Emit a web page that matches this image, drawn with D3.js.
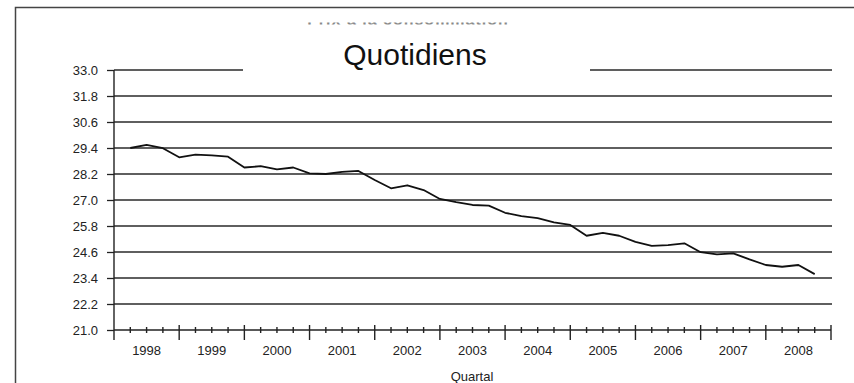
<!DOCTYPE html>
<html>
<head>
<meta charset="utf-8">
<script src="https://cdn.jsdelivr.net/npm/d3@7"></script>
<style>
  body { margin: 0; background: #fff; }
  svg { display: block; font-family: "Liberation Sans", Arial, sans-serif; }
</style>
</head>
<body>
<svg id="chart" width="854" height="383"></svg>
<script>
// years on the x axis, one label per year (4 quarters)
const years = ["1998", "1999", "2000", "2001", "2002", "2003", "2004", "2005", "2006", "2007", "2008"]
// y tick labels
const yTicks = [21.0, 22.2, 23.4, 24.6, 25.8, 27.0, 28.2, 29.4, 30.6, 31.8, 33.0]
// quarterly index values
const values = [
    29.40, 29.54, 29.39, 28.97, 29.09, 29.06, 29.00, 28.50, 28.56, 28.41,
    28.50, 28.23, 28.20, 28.30, 28.34, 27.92, 27.54, 27.68, 27.46, 27.05,
    26.90, 26.77, 26.74, 26.41, 26.26, 26.16, 25.97, 25.85, 25.35, 25.48,
    25.35, 25.07, 24.88, 24.92, 25.00, 24.59, 24.49, 24.54, 24.26, 24.00,
    23.92, 24.00, 23.58
]

const svg = d3.select("#chart")
const nQuarters = years.length * 4

let xScale = d3.scaleLinear().domain([0, nQuarters]).range([114, 831])
let yScale = d3.scaleLinear().domain([21, 33]).range([330, 70])

// frame (left and top only)
svg.append("path")
    .attr("d", "M15.5,383 V7.5 H854")
    .attr("fill", "none")
    .attr("stroke", "#444")
    .attr("stroke-width", 1.5)

// gridlines
svg.selectAll(".grid")
    .data(yTicks.slice(1))
    .enter()
    .append("line")
    .attr("class", "grid")
    .attr("x1", xScale(0))
    .attr("x2", 832)
    .attr("y1", d => yScale(d))
    .attr("y2", d => yScale(d))
    .attr("stroke", "#2a2a2a")
    .attr("stroke-width", 1.6)

// y axis
let yAxis = svg.append("g")
    .attr("transform", "translate(" + xScale(0) + ",0)")
    .call(d3.axisLeft(yScale).tickValues(yTicks).tickSize(7).tickPadding(9).tickFormat(d3.format(".1f")))
yAxis.select(".domain").remove()
yAxis.selectAll("line").attr("stroke", "#222").attr("stroke-width", 1.3)
yAxis.selectAll("text").attr("font-size", "13px").attr("fill", "#222")
    .attr("font-family", "'Liberation Sans', Arial, sans-serif")
svg.append("line")
    .attr("x1", xScale(0)).attr("x2", xScale(0))
    .attr("y1", yScale(33)).attr("y2", 340)
    .attr("stroke", "#222").attr("stroke-width", 1.4)

// x axis
svg.append("line")
    .attr("x1", xScale(0)).attr("x2", xScale(nQuarters))
    .attr("y1", yScale(21)).attr("y2", yScale(21))
    .attr("stroke", "#222").attr("stroke-width", 1.6)

let quarters = d3.range(1, nQuarters + 1)
svg.selectAll(".qtick")
    .data(quarters)
    .enter()
    .append("line")
    .attr("class", "qtick")
    .attr("x1", d => xScale(d)).attr("x2", d => xScale(d))
    .attr("y1", d => d % 4 == 0 ? yScale(21) - 5 : yScale(21) - 3)
    .attr("y2", d => d % 4 == 0 ? yScale(21) + 10 : yScale(21) + 3)
    .attr("stroke", "#222")
    .attr("stroke-width", 1.4)

svg.selectAll(".year")
    .data(years)
    .enter()
    .append("text")
    .attr("class", "year")
    .attr("x", (d, i) => xScale(i * 4 + 2))
    .attr("y", 355)
    .attr("text-anchor", "middle")
    .attr("font-size", "13px")
    .attr("fill", "#222")
    .text(d => d)

svg.append("text")
    .attr("x", 472)
    .attr("y", 381)
    .attr("text-anchor", "middle")
    .attr("font-size", "13px")
    .attr("fill", "#222")
    .text("Quartal")

// data line
let line = d3.line()
    .x((d, i) => xScale(i + 1))
    .y(d => yScale(d))
svg.append("path")
    .datum(values)
    .attr("d", line)
    .attr("fill", "none")
    .attr("stroke", "#111")
    .attr("stroke-width", 1.8)
    .attr("stroke-linejoin", "round")

// remnant of the original title, only its bottom edge shows
svg.append("clipPath").attr("id", "oldTitle")
    .append("rect").attr("x", 0).attr("y", 22.5).attr("width", 854).attr("height", 2)
svg.append("text")
    .attr("clip-path", "url(#oldTitle)")
    .attr("x", 408)
    .attr("y", 24.5)
    .attr("text-anchor", "middle")
    .attr("font-size", "16px")
    .attr("font-weight", "bold")
    .attr("letter-spacing", "1px")
    .attr("fill", "#888")
    .text("Prix à la consommation")

// white box behind the new title
svg.append("rect")
    .attr("x", 243).attr("y", 32)
    .attr("width", 347).attr("height", 42)
    .attr("fill", "#fff")

svg.append("text")
    .attr("x", 415)
    .attr("y", 65)
    .attr("text-anchor", "middle")
    .attr("font-size", "30px")
    .attr("fill", "#111")
    .text("Quotidiens")
</script>
</body>
</html>
